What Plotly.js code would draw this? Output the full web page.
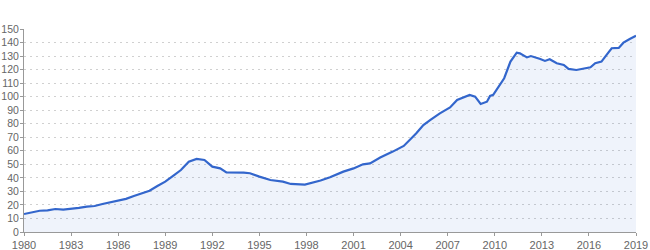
<!DOCTYPE html>
<html>
<head>
<meta charset="utf-8">
<script src="https://cdn.plot.ly/plotly-3.0.1.min.js"></script>
<style>html,body{margin:0;padding:0;background:#fff;}#chart{width:650px;height:250px;}</style>
</head>
<body>
<div id="chart"></div>
<script>
const years = [1980.0,1980.5,1981.0,1981.5,1982.0,1982.5,1983.0,1983.5,1984.0,1984.5,1985.0,1985.5,1986.0,1986.5,1987.0,1987.5,1988.0,1988.5,1989.0,1989.5,1990.0,1990.5,1991.0,1991.5,1992.0,1992.5,1992.9,1994.0,1994.4,1995.0,1995.7,1996.5,1997.0,1997.9,1998.9,1999.5,2000.35,2001.0,2001.6,2002.05,2002.7,2003.5,2004.2,2005.0,2005.45,2005.9,2006.5,2007.15,2007.6,2008.4,2008.75,2009.1,2009.5,2009.7,2009.9,2010.6,2011.0,2011.4,2011.6,2012.05,2012.3,2012.9,2013.2,2013.5,2013.95,2014.4,2014.7,2015.2,2015.8,2016.1,2016.4,2016.8,2017.15,2017.45,2017.9,2018.2,2018.6,2019.0];
const values = [13.3,14.5,15.7,16.0,17.0,16.5,17.0,17.8,18.7,19.2,20.7,22.0,22.9,24.5,26.6,28.5,30.5,34.0,37.2,41.5,45.8,52.0,54.0,53.2,48.3,47.0,44.1,43.8,43.4,40.9,38.4,37.2,35.5,35.0,38.0,40.4,44.6,47.0,50.0,50.7,55.0,59.4,63.6,72.9,79.0,82.8,87.7,92.0,97.6,101.3,100.0,94.6,96.3,100.5,101.3,113.6,125.9,132.5,132.0,129.0,130.0,127.9,126.4,127.6,124.7,123.4,120.5,119.7,121.4,121.7,124.7,125.9,131.3,135.8,136.0,139.9,142.6,145.0];
const xTicks = [1980,1983,1986,1989,1992,1995,1998,2001,2004,2007,2010,2013,2016,2019];
const yTicks = [0,10,20,30,40,50,60,70,80,90,100,110,120,130,140,150];

const trace = {
  x: years, y: values, type: 'scatter', mode: 'lines',
  line: {color: '#3366cc', width: 2.2},
  fill: 'tozeroy', fillcolor: 'rgba(51,102,204,0.08)',
  hoverinfo: 'x+y'
};
const layout = {
  width: 650, height: 250,
  margin: {l: 24, r: 14, t: 29, b: 18},
  paper_bgcolor: '#fff', plot_bgcolor: '#fff',
  showlegend: false,
  font: {family: 'Liberation Sans, Arial, sans-serif', size: 11, color: '#666'},
  xaxis: {
    range: [1980, 2019], tickvals: xTicks, ticktext: xTicks.map(String),
    showgrid: false, zeroline: false, showline: true, linecolor: '#999', linewidth: 1,
    ticks: 'outside', ticklen: 3, tickcolor: '#999', fixedrange: true
  },
  yaxis: {
    range: [0, 150], tickvals: yTicks, ticktext: yTicks.map(String),
    showgrid: true, gridcolor: '#d0d0d0', griddash: '2px,4px', gridwidth: 1,
    zeroline: false, showline: true, linecolor: '#999', linewidth: 1,
    ticks: 'outside', ticklen: 3, tickcolor: '#999', fixedrange: true,
    ticklabelstandoff: -1, tickfont: {size: 10.5}
  }
};
Plotly.newPlot('chart', [trace], layout, {displayModeBar: false, staticPlot: true});
</script>
</body>
</html>
